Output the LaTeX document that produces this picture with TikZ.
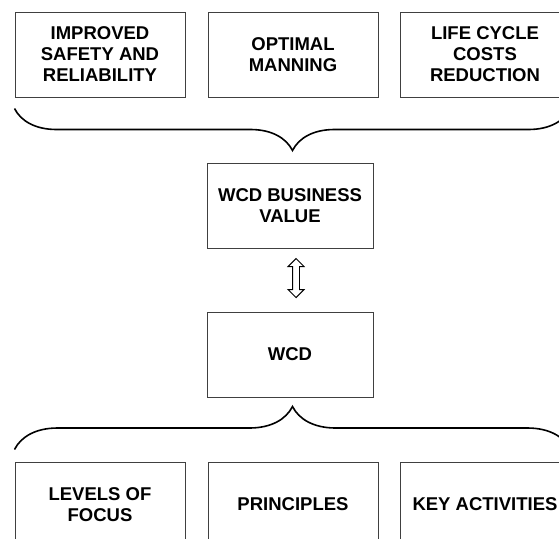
\documentclass[tikz,border=0pt]{standalone}
\usepackage{fontspec}
\setmainfont{Liberation Sans}
\usepackage{tikz}
\usetikzlibrary{positioning}
\usetikzlibrary{calc}
\usetikzlibrary{shapes.arrows}
\usetikzlibrary{decorations.pathreplacing}

\begin{document}
\begin{tikzpicture}[x=1pt,y=-1pt]
          \tikzstyle{every node}=[font=\fontsize{18.5}{21}\selectfont\bfseries,align=center]
          \tikzstyle{box}=[draw=black!75,line width=1pt,minimum width=170pt,minimum height=85pt,inner sep=0pt]
          \tikzstyle{curly}=[draw,line width=1.6pt,decorate,decoration={brace,amplitude=42pt}]
          \tikzstyle{dblarrow}=[double arrow,draw,line width=.9pt,fill=white,rotate=90,minimum height=39pt,minimum width=15pt,double arrow head extend=4.5pt,inner xsep=0pt,inner ysep=3pt]
          \useasboundingbox (0,0) rectangle (559,538);
          \clip (0,0) rectangle (559,538);
          % 
          \node [box] (safety) at (100,54.5)       {IMPROVED\\SAFETY AND\\RELIABILITY};
          \node [box] (manning) [right=22pt of safety]  {OPTIMAL\\MANNING};
          \node [box] (costs) [right=21pt of manning]   {LIFE CYCLE\\COSTS\\REDUCTION};
          \node [box,minimum width=166pt,xshift=-3pt] (value) [below=65pt of manning] {WCD BUSINESS\\VALUE};
          \node [box,minimum width=166pt] (wcd) [below=63pt of value]     {WCD};
          \node [box] (principles) [below=64pt of wcd,xshift=3pt]  {PRINCIPLES};
          \node [box] (levels) [left=22pt of principles]  {LEVELS OF\\FOCUS};
          \node [box] (activities) [right=21pt of principles] {KEY ACTIVITIES};
          % 
          \node [dblarrow] (link) at ($(value.south)!.47!(wcd.north)+(6pt,0)$) {};
          % 
          \path ([yshift=-11pt]costs.south east) edge [curly] ([yshift=-11pt]safety.south west);
          \path ([yshift=12pt]levels.north west) edge [curly,decoration={amplitude=43pt}] ([yshift=12pt]activities.north east);
        \end{tikzpicture}
\end{document}
